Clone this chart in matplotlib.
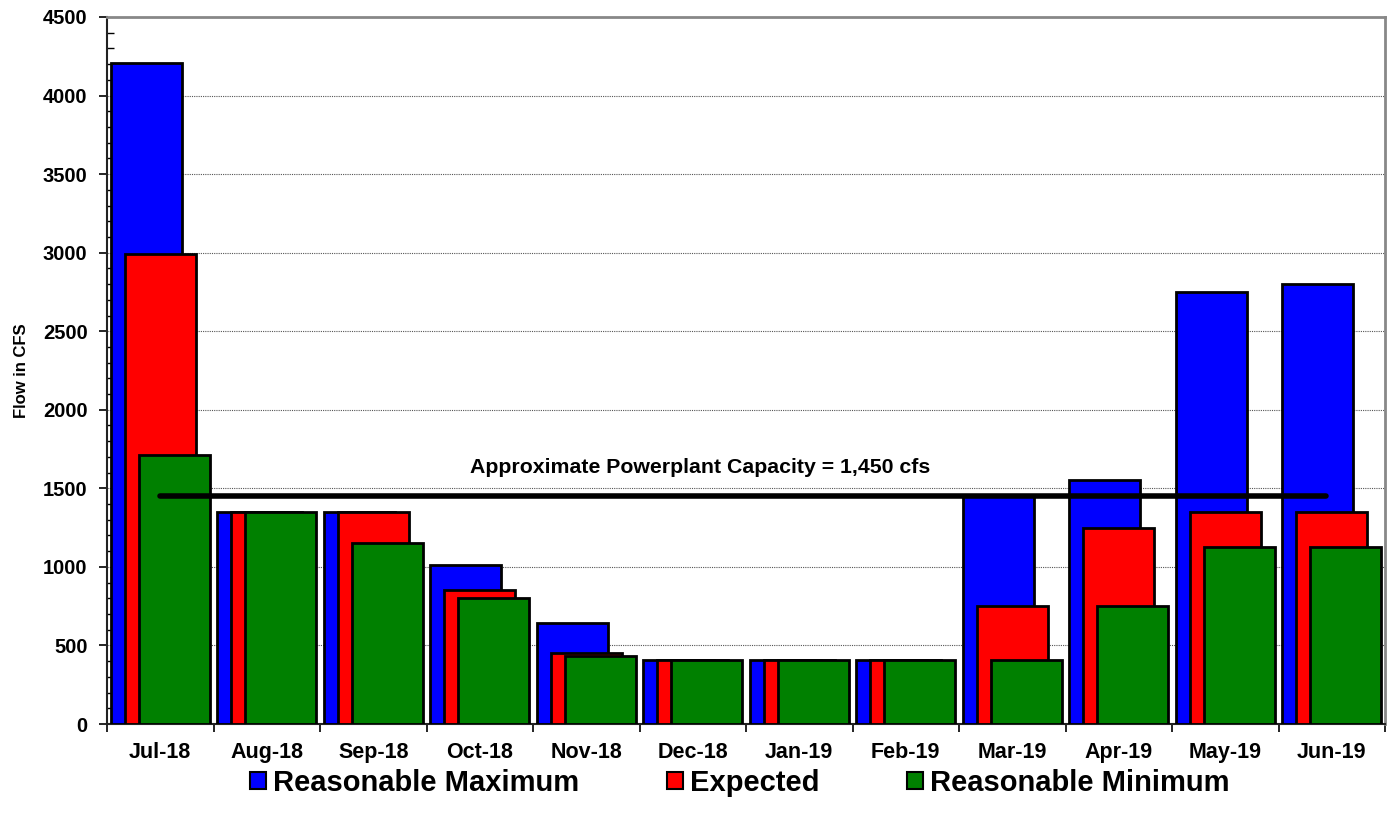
import matplotlib
matplotlib.use("Agg")
import matplotlib.pyplot as plt
import numpy as np
from matplotlib.ticker import MultipleLocator
from matplotlib.patches import Patch

plt.rcParams['font.family'] = ['Liberation Sans', 'DejaVu Sans']
plt.rcParams['font.weight'] = 'bold'

mjeseci = ["Jul-18", "Aug-18", "Sep-18", "Oct-18", "Nov-18", "Dec-18",
           "Jan-19", "Feb-19", "Mar-19", "Apr-19", "May-19", "Jun-19"]
maksimum = [4210, 1350, 1350, 1010, 640, 410, 410, 410, 1450, 1550, 2750, 2800]
ocekivano = [2990, 1350, 1350, 850, 450, 410, 410, 410, 750, 1250, 1350, 1350]
minimum = [1715, 1350, 1150, 800, 430, 410, 410, 410, 410, 750, 1125, 1125]
kapacitet = 1450

fig = plt.figure(figsize=(13.88, 8.27), dpi=100)
ax = fig.add_axes([107/1388, 1-724/827, (1385-107)/1388, (724-17)/827])

x = np.arange(len(mjeseci))
sirina = 0.667
pomak = 0.132
serije = [(maksimum, "#0000FF", "Reasonable Maximum", -pomak),
          (ocekivano, "#FF0000", "Expected", 0),
          (minimum, "#008000", "Reasonable Minimum", pomak)]
for i, (vr, boja, ime, dx) in enumerate(serije):
    ax.bar(x + dx, vr, width=sirina, color=boja, edgecolor="black",
           linewidth=2, zorder=3 + i, label=ime)

# linija kapaciteta elektrane
ax.plot([x[0], x[-1] - 0.05], [kapacitet, kapacitet], color="black", lw=4,
        solid_capstyle="round", zorder=10)
ax.text(5.07, 1598, "Approximate Powerplant Capacity = 1,450 cfs",
        ha="center", va="baseline", fontsize=15.3, fontweight="bold", zorder=11)

ax.set_xlim(-0.5, len(mjeseci) - 0.5)
ax.set_ylim(0, 4500)
ax.yaxis.set_major_locator(MultipleLocator(500))
ax.yaxis.set_minor_locator(MultipleLocator(100))
ax.tick_params(axis="y", which="major", direction="out", length=6, width=1.2,
               labelsize=14.5, pad=8)
ax.tick_params(axis="y", which="minor", direction="in", length=5, width=1)
ax.set_xticks(x)
ax.set_xticklabels(mjeseci, fontsize=15.5, fontweight="bold")
ax.tick_params(axis="x", which="major", length=0, pad=13)
ax.set_xticks(np.arange(-0.5, len(mjeseci)), minor=True)
ax.tick_params(axis="x", which="minor", direction="out", length=6, width=1.2)
for lbl in ax.get_yticklabels():
    lbl.set_fontweight("bold")

ax.grid(axis="y", which="major", color="#555555", linestyle=(0, (1, 1)),
        linewidth=0.8, zorder=0)
ax.set_axisbelow(True)

ax.spines["left"].set_color("#222222")
ax.spines["bottom"].set_color("#222222")
ax.spines["left"].set_linewidth(1.5)
ax.spines["bottom"].set_linewidth(1.5)
ax.spines["top"].set_color("#888888")
ax.spines["right"].set_color("#888888")
ax.spines["top"].set_linewidth(2)
ax.spines["right"].set_linewidth(2)

ax.set_ylabel("Flow in CFS", fontsize=12, fontweight="bold", labelpad=10)

rucke = [Patch(facecolor=b, edgecolor="black", linewidth=1.5) for _, b, _, _ in serije]
fig.legend(rucke, [s[2] for s in serije], loc="center",
           bbox_to_anchor=(0.533, 1 - 783/827), ncol=3, frameon=False,
           prop={"weight": "bold", "size": 21},
           handlelength=0.55, handleheight=0.55, handletextpad=0.25,
           columnspacing=3.0)

fig.savefig("out.png", dpi=100)
